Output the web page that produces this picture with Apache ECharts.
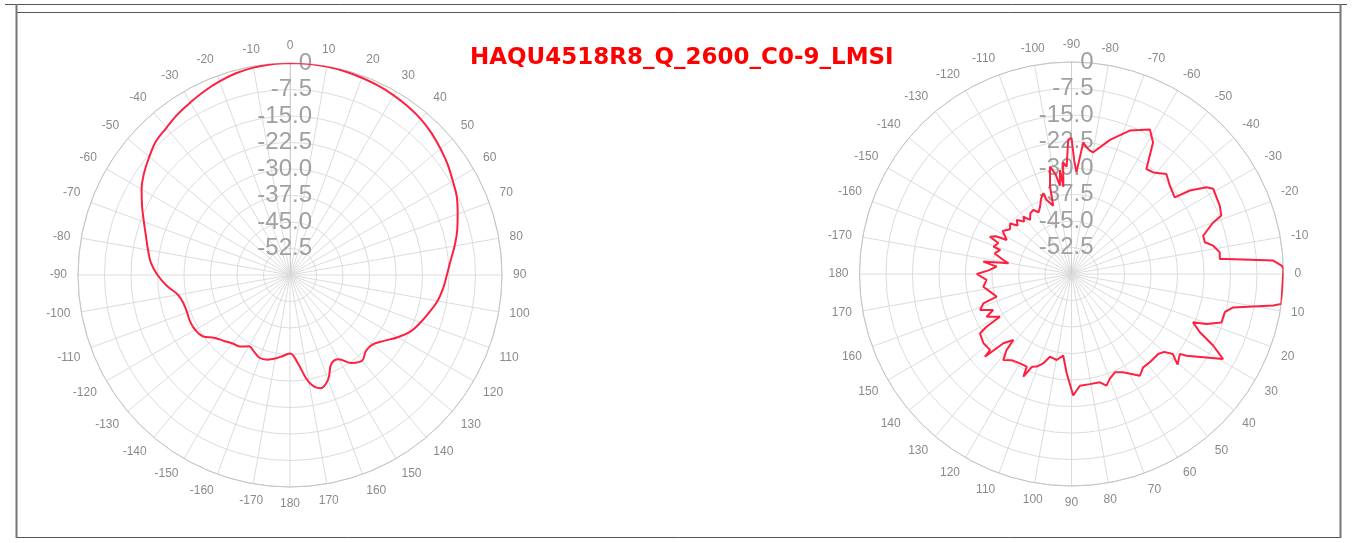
<!DOCTYPE html>
<html>
<head>
<meta charset="utf-8">
<title>HAQU4518R8_Q_2600_C0-9_LMSI</title>
<script src="https://cdn.jsdelivr.net/npm/echarts@6/dist/echarts.min.js"></script>
<style>
  html, body { margin: 0; padding: 0; background: #fff; }
  #chart { width: 1353px; height: 543px; }
</style>
</head>
<body>
<div id="chart"></div>
<script>
// 水平方向图: 角度(°) / 增益(dB)
const hAngles = [-180, -175, -170, -165, -160, -155, -150, -145, -140, -135, -130, -125,
  -120, -115, -110, -105, -100, -95, -90, -85, -80, -75, -70, -65, -60, -55, -50, -45,
  -40, -35, -30, -25, -20, -15, -10, -5, 0, 5, 10, 15, 20, 25, 30, 35, 40, 45, 50, 55,
  60, 65, 70, 75, 80, 85, 90, 95, 100, 105, 110, 115, 120, 125, 130, 135, 140, 145,
  150, 155, 160, 165, 170, 175, 180]
const hGains = [-37.8, -37.0, -36.0, -35.2, -35.0, -36.0, -36.7, -35.3, -34.7, -33.6, -32.3, -29.8,
  -29.0, -28.8, -29.0, -28.8, -27.8, -25.0, -22.5, -20.5, -19.2, -17.8, -16.0, -13.8, -11.5, -9.6, -8.0, -6.4,
  -5.6, -4.5, -3.6, -2.6, -1.7, -0.9, -0.4, -0.1, 0, 0, -0.1, -0.3, -0.6, -0.9, -1.3, -1.8, -2.4, -3.3, -4.4, -5.5,
  -6.8, -7.9, -9.5, -11.0, -12.7, -14.4, -15.6, -16.5, -17.6, -19.2, -20.7, -22.3, -24.8, -27.5, -29.4, -29.6, -28.3, -29.6,
  -32.5, -32.3, -28.5, -26.8, -29.2, -35.0, -37.8]

// 垂直方向图: 角度(°) / 增益(dB)
const vAngles = [-180, -177.5, -174.4, -172, -170.4, -168.4, -165, -161.4, -160.7, -157, -155.4, -153.5,
  -152.3, -148, -144, -140.5, -138, -135.4, -132, -130, -127.5, -124, -120.8, -118, -115.1, -112,
  -109.2, -108.6, -105, -103.8, -101.3, -99, -97.5, -96.3, -95.3, -94.3, -92.6, -91.4, -90, -88.6,
  -87.2, -84.9, -83, -81.5, -79.9, -74, -67.9, -61.5, -58.2, -54.5, -51.2, -46.5, -41.9, -36.6,
  -35.2, -32.7, -31, -24.7, -21.3, -20, -16.2, -13.4, -11.3, -8.3, -5.8, -5.5, -3.8, -2.3, -1.4,
  8.1, 8.9, 11.7, 14, 17.9, 20.3, 21.7, 24.4, 26.8, 29.3, 35.4, 36.4, 40.5, 38.3, 40, 42.7, 48.4,
  52.5, 56.1, 62.3, 66.2, 70, 72.6, 75.3, 80.5, 85.7, 89.2, 92.9, 95.8, 99.8, 102, 104.6, 107.5,
  110.6, 113, 115.1, 115.8, 120, 124.8, 128.4, 130.5, 131.4, 134.5, 136.3, 137, 141.8, 147, 148.2,
  149.2, 153.3, 155.3, 158.5, 161.6, 163.1, 167.8, 171.8, 176, 180]
const vGains = [-33.2, -36.5, -38.7, -34.8, -41.9, -40.3, -37.5, -38.7, -36.6, -37.5, -34.6, -36.1,
  -39.3, -37.0, -38.5, -37.5, -39.5, -38.2, -40.0, -38.8, -40.7, -39.2, -38.9, -40.2, -39.0, -37.0,
  -35.8, -37.9, -40.0, -34.5, -29.0, -31.5, -34.8, -30.4, -35.2, -28.3, -29.6, -22.0, -21.5, -28.0,
  -31.2, -22.6, -24.0, -24.7, -25.0, -20.5, -16.2, -13.5, -16.2, -23.5, -23.1, -21.0, -22.6, -23.6,
  -19.0, -14.6, -13.2, -13.8, -14.5, -17.3, -21.2, -21.2, -19.1, -17.6, -17.8, -15.9, -2.8, -0.5, 0,
  0, -2.2, -13.3, -15.3, -15.4, -19.3, -23.0, -20.1, -15.1, -10.8, -20.1, -21.9, -20.5, -23.5, -25.7, -26.6, -26.6,
  -26.7, -25.3, -28.6, -29.6, -28.4, -26.9, -28.3, -28.4, -28.3, -25.6, -32.1, -36.8, -35.3, -35.6, -35.8, -33.5,
  -32.0, -31.5, -27.9, -30.9, -30.8, -30.3, -28.9, -31.7, -35.1, -32.5, -26.1, -28.5, -28.3, -29.1, -31.7,
  -36.4, -33.1, -35.6, -32.2, -33.7, -37.9, -36.4, -34.8, -35.9, -33.2]

// 坐标刻度
const gainMin = -60
const gainMax = 0
const gainStep = 7.5
const angleStep = 10

const titleText = 'HAQU4518R8_Q_2600_C0-9_LMSI'

// 角度换算到坐标轴区间 [start, start + 360), 首尾闭合
const toPolar = (angles, gains, start) => {
  const pts = angles.map((a, i) => [gains[i], a < start ? a + 360 : a])
  let k = 0
  pts.forEach((p, i) => { if (p[1] < pts[k][1]) k = i })
  const out = pts.slice(k).concat(pts.slice(0, k))
  out.push([out[0][0], out[0][1] + 360])
  return out
}

const angleLabel = (v) => {
  let a = ((v % 360) + 360) % 360
  if (a > 180) a -= 360
  return String(Math.round(a))
}

const makeAngleAxis = (idx, min) => ({
  polarIndex: idx,
  type: 'value',
  min: min,
  max: min + 360,
  interval: angleStep,
  startAngle: 90,
  clockwise: true,
  axisLine: { lineStyle: { color: '#c4c4c4', width: 1 } },
  axisTick: { show: false },
  axisLabel: {
    margin: 11,
    color: '#8a8a8a',
    fontSize: 12,
    fontFamily: 'Liberation Sans',
    formatter: angleLabel
  },
  splitLine: { show: true, lineStyle: { color: '#dcdcdc', width: 1 } }
})

const makeRadiusAxis = (idx) => ({
  polarIndex: idx,
  type: 'value',
  min: gainMin,
  max: gainMax,
  interval: gainStep,
  axisLine: { show: true, lineStyle: { color: '#d0d0d0' } },
  axisTick: { show: false },
  axisLabel: {
    showMinLabel: false,
    margin: -22,
    color: '#a0a0a0',
    fontSize: 24,
    fontFamily: 'Liberation Sans',
    formatter: (v) => (v === 0 ? '0' : v.toFixed(1))
  },
  splitLine: { show: true, lineStyle: { color: '#dcdcdc', width: 1 } }
})

const chart = echarts.init(document.getElementById('chart'))
chart.setOption({
  backgroundColor: '#ffffff',
  animation: false,
  title: {
    text: titleText,
    left: 465,
    top: 42,
    textStyle: { color: '#ff0000', fontSize: 23, fontWeight: 'bold', fontFamily: 'DejaVu Sans' }
  },
  polar: [
    { center: [290, 275], radius: 212 },
    { center: [1071.5, 274], radius: 212 }
  ],
  angleAxis: [makeAngleAxis(0, 0), makeAngleAxis(1, -90)],
  radiusAxis: [makeRadiusAxis(0), makeRadiusAxis(1)],
  series: [
    {
      name: '水平',
      type: 'line',
      coordinateSystem: 'polar',
      polarIndex: 0,
      smooth: 0.4,
      showSymbol: false,
      lineStyle: { color: '#ff2040', width: 2 },
      data: toPolar(hAngles, hGains, 0)
    },
    {
      name: '垂直',
      type: 'line',
      coordinateSystem: 'polar',
      polarIndex: 1,
      showSymbol: false,
      lineStyle: { color: '#ff2040', width: 2 },
      data: toPolar(vAngles, vGains, -90)
    }
  ],
  graphic: [
    { type: 'line', shape: { x1: 5, y1: 4.5, x2: 1347, y2: 4.5 }, style: { stroke: '#555', lineWidth: 1 } },
    { type: 'line', shape: { x1: 17, y1: 12.5, x2: 1340, y2: 12.5 }, style: { stroke: '#555', lineWidth: 1 } },
    { type: 'line', shape: { x1: 16.5, y1: 4, x2: 16.5, y2: 538 }, style: { stroke: '#777', lineWidth: 2 } },
    { type: 'line', shape: { x1: 1340.5, y1: 4, x2: 1340.5, y2: 538 }, style: { stroke: '#777', lineWidth: 2 } },
    { type: 'line', shape: { x1: 17, y1: 537.5, x2: 1340, y2: 537.5 }, style: { stroke: '#555', lineWidth: 1 } }
  ]
})
</script>
</body>
</html>
